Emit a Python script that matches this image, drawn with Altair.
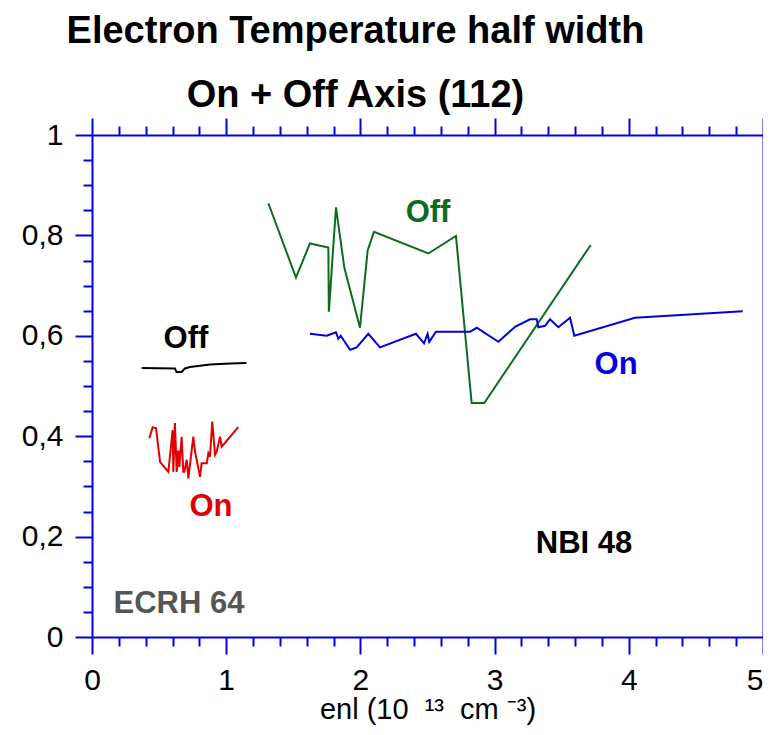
import altair as alt
import pandas as pd

# ---------------- data ----------------
ecrh_off_x = [0.37, 0.618, 0.63, 0.668, 0.693, 0.73, 0.88, 1.03, 1.15]
ecrh_off_y = [0.536, 0.535, 0.528, 0.528, 0.535, 0.538, 0.543, 0.545, 0.546]

ecrh_on_x = [0.427, 0.452, 0.477, 0.507, 0.569, 0.601, 0.606, 0.618, 0.631, 0.643,
             0.651, 0.668, 0.680, 0.688, 0.706, 0.718, 0.755, 0.768, 0.805, 0.817,
             0.855, 0.867, 0.879, 0.896, 0.917, 0.929, 0.954, 0.966, 1.090]
ecrh_on_y = [0.396, 0.418, 0.416, 0.349, 0.329, 0.412, 0.329, 0.426, 0.329, 0.372,
             0.339, 0.399, 0.329, 0.329, 0.353, 0.316, 0.399, 0.369, 0.319, 0.346,
             0.346, 0.366, 0.359, 0.429, 0.363, 0.369, 0.399, 0.379, 0.418]

nbi_off_x = [1.314, 1.520, 1.624, 1.761, 1.765, 1.818, 1.880, 1.997, 2.054, 2.101,
             2.506, 2.712, 2.829, 2.923, 3.716]
nbi_off_y = [0.864, 0.716, 0.784, 0.776, 0.648, 0.856, 0.736, 0.616, 0.770, 0.807,
             0.764, 0.799, 0.466, 0.466, 0.781]

nbi_on_x = [1.624, 1.749, 1.818, 1.835, 1.853, 1.868, 1.923, 1.972, 2.059, 2.146,
            2.414, 2.474, 2.501, 2.513, 2.563, 2.817, 2.867, 3.028, 3.152, 3.264,
            3.314, 3.326, 3.376, 3.413, 3.475, 3.562, 3.594, 4.046, 4.849]
nbi_on_y = [0.604, 0.600, 0.607, 0.594, 0.600, 0.594, 0.572, 0.577, 0.604, 0.577,
            0.604, 0.585, 0.604, 0.588, 0.608, 0.608, 0.616, 0.588, 0.618, 0.633,
            0.633, 0.617, 0.620, 0.633, 0.617, 0.636, 0.600, 0.636, 0.649]

series_names = ["ECRH Off", "ECRH On", "NBI Off", "NBI On"]
series_colors = ["#000000", "#e00000", "#0b6b1f", "#0000e0"]

note_text = ["Off", "On", "Off", "On", "NBI 48", "ECRH 64"]
note_x = [0.70, 0.887, 2.504, 3.905, 3.666, 0.648]
note_y = [0.594, 0.259, 0.845, 0.542, 0.185, 0.066]
note_color = ["#000000", "#e00000", "#0b6b1f", "#0000e0", "#000000", "#555555"]

x_ticks = [round(i * 0.2, 1) for i in range(26)]
y_ticks = [round(i * 0.05, 2) for i in range(21)]

x_title = "enl (10\u00a0\u00a0\u00b9\u00b3\u00a0\u00a0cm\u00a0\u207b\u00b3)"

# ---------------- build tables ----------------
frames = []
for name, xs, ys in zip(series_names,
                        [ecrh_off_x, ecrh_on_x, nbi_off_x, nbi_on_x],
                        [ecrh_off_y, ecrh_on_y, nbi_off_y, nbi_on_y]):
    frames.append(pd.DataFrame({"series": name, "x": xs, "y": ys, "i": range(len(xs))}))
lines_df = pd.concat(frames, ignore_index=True)

notes_df = pd.DataFrame({"t": note_text, "x": note_x, "y": note_y, "c": note_color})

AXIS_BLUE = "#0000e6"
FONT = "Liberation Sans"

x_scale = alt.Scale(domain=[0, 5], nice=False, zero=False)
y_scale = alt.Scale(domain=[0, 1], nice=False, zero=False)

x_major = "abs(datum.value - round(datum.value)) < 0.001"
y_major = "abs(datum.value * 5 - round(datum.value * 5)) < 0.001"

common = dict(
    domainColor=AXIS_BLUE, domainWidth=2, tickColor=AXIS_BLUE, tickWidth=2,
    grid=False, labelFont=FONT, labelFontSize=30, labelColor="#000000",
    labelOverlap=False, labelFlush=False,
)

x_axis_bottom = alt.Axis(
    orient="bottom", values=x_ticks,
    tickSize={"condition": {"test": x_major, "value": 17}, "value": 9},
    labelExpr=f"({x_major}) ? format(datum.value, 'd') : ''",
    labelAlign={"condition": {"test": "datum.value > 4.99", "value": "right"}, "value": "center"},
    labelPadding=11,
    title=x_title, titleFont=FONT, titleFontSize=29,
    titleFontWeight="normal", titleColor="#000000", titlePadding=0,
    **common,
)
y_axis_left = alt.Axis(
    orient="left", values=y_ticks,
    tickSize={"condition": {"test": y_major, "value": 17}, "value": 9},
    labelExpr=(f"({y_major}) ? (datum.value == 0 ? '0' : datum.value == 1 ? '1' : "
               "replace(format(datum.value, '.1f'), '.', ',')) : ''"),
    labelPadding=12, title=None,
    **common,
)
x_axis_top = alt.Axis(
    orient="top", values=x_ticks,
    tickSize={"condition": {"test": x_major, "value": 17}, "value": 9},
    labels=False, title=None, **common,
)
y_axis_right = alt.Axis(
    orient="right", values=y_ticks,
    tickSize={"condition": {"test": y_major, "value": 17}, "value": 9},
    labels=False, title=None, **common,
)

base_lines = alt.Chart(lines_df).mark_line(strokeWidth=2).encode(
    x=alt.X("x:Q", scale=x_scale, axis=x_axis_bottom),
    y=alt.Y("y:Q", scale=y_scale, axis=y_axis_left),
    color=alt.Color("series:N", scale=alt.Scale(domain=series_names, range=series_colors), legend=None),
    order=alt.Order("i:Q"),
)

frame_axes = alt.Chart(lines_df).mark_line(opacity=0).encode(
    x=alt.X("x:Q", scale=x_scale, axis=x_axis_top),
    y=alt.Y("y:Q", scale=y_scale, axis=y_axis_right),
    detail="series:N",
)

notes = alt.Chart(notes_df).mark_text(
    font=FONT, fontSize=31, fontWeight="bold", align="center", baseline="middle"
).encode(
    x=alt.X("x:Q", scale=x_scale, axis=None),
    y=alt.Y("y:Q", scale=y_scale, axis=None),
    text="t:N",
    color=alt.Color("c:N", scale=None),
)

chart = alt.layer(base_lines, notes, frame_axes).resolve_axis(
    x="independent", y="independent"
).properties(
    width=671, height=502,
    autosize=alt.AutoSizeParams(type="none"),
    padding={"left": 84, "top": 127, "right": 0, "bottom": 90},
    title=alt.TitleParams(
        text=["Electron Temperature half width", "On + Off Axis (112)"],
        font=FONT, fontSize=38, fontWeight="bold", color="#000000",
        lineHeight=64, anchor="middle", dx=-72, offset=2,
    ),
).configure_view(stroke=None)

chart.save("out.html", embed_options={"renderer": "svg", "actions": False})
